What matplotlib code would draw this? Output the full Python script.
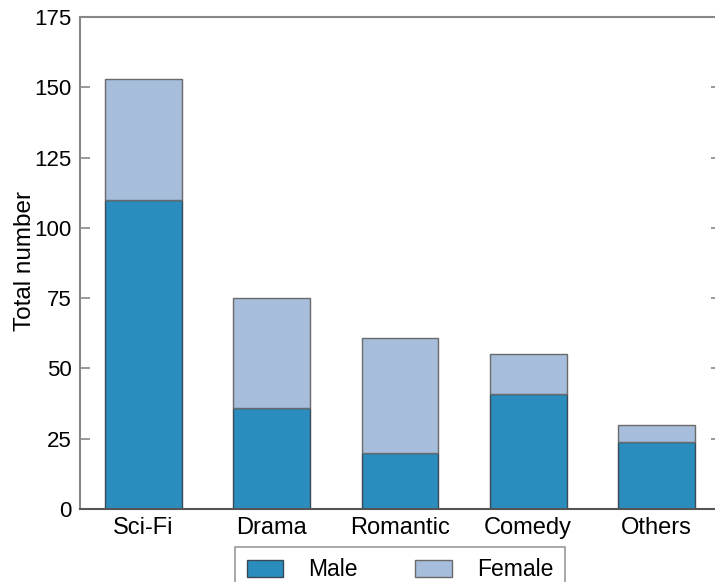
import matplotlib
matplotlib.use("Agg")
import matplotlib.pyplot as plt
import numpy as np

categories = ["Sci-Fi", "Drama", "Romantic", "Comedy", "Others"]
male = [110, 36, 20, 41, 24]
female = [43, 39, 41, 14, 6]
yticks = [0, 25, 50, 75, 100, 125, 150, 175]

plt.rcParams['font.family'] = ['Liberation Sans', 'DejaVu Sans']
FS = 16.5

fig = plt.figure(figsize=(7.15, 5.82), dpi=100)
ax = fig.add_axes([79.5/715, 1-509/582, 641/715, 492/582])

x = np.arange(len(categories))
b1 = ax.bar(x, male, width=0.6, color='#2b8cbe', edgecolor='#3a4a55', linewidth=1, label='Male', zorder=2)
b2 = ax.bar(x, female, width=0.6, bottom=male, color='#a6bddb', edgecolor='#6a6a6a', linewidth=1, label='Female', zorder=2)

ax.set_xlim(-0.5, 4.5)
ax.set_ylim(0, 175)
ax.set_yticks(yticks)
ax.set_xticks(x)
ax.set_xticklabels(categories, fontsize=17)
ax.tick_params(axis='y', direction='in', length=7, width=1.2, color='#888888',
               labelsize=16, pad=5.5, right=True)
ax.tick_params(axis='x', length=0, pad=6)

for s in ['left', 'top', 'right']:
    ax.spines[s].set_color('#888888')
    ax.spines[s].set_linewidth(1.5)
ax.spines['bottom'].set_color('#555555')
ax.spines['bottom'].set_linewidth(1.5)

ax.set_ylabel('Total number', fontsize=17.5)
ax.yaxis.set_label_coords((36-79.5)/641, 0.505)

leg = fig.legend(handles=[b1, b2], labels=['Male', 'Female'], ncol=2,
                 loc='upper center', bbox_to_anchor=(400/715, 1-547/582),
                 bbox_transform=fig.transFigure, fontsize=FS,
                 frameon=True, fancybox=False, framealpha=1, borderaxespad=0,
                 edgecolor='#999999', handlelength=1.6, handleheight=0.8,
                 handletextpad=1.1, columnspacing=2.5, borderpad=0.5)
leg.get_frame().set_linewidth(1.2)

fig.savefig('out.png', dpi=100)
